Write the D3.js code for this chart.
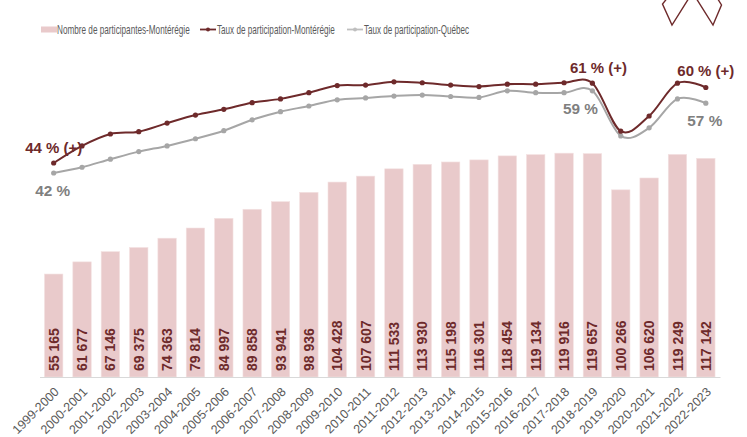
<!DOCTYPE html>
<html><head><meta charset="utf-8">
<script src="https://cdn.jsdelivr.net/npm/d3@7"></script>
<style>
html,body{margin:0;padding:0;background:#fff;}
svg{display:block;font-family:"Liberation Sans",Arial,sans-serif;}
</style></head>
<body>
<svg id="chart" width="747" height="437"></svg>
<script>
const categories = ["1999-2000","2000-2001","2001-2002","2002-2003","2003-2004","2004-2005","2005-2006","2006-2007","2007-2008","2008-2009","2009-2010","2010-2011","2011-2012","2012-2013","2013-2014","2014-2015","2015-2016","2016-2017","2017-2018","2018-2019","2019-2020","2020-2021","2021-2022","2022-2023"];
const participants = [55165,61677,67146,69375,74363,79814,84997,89858,93941,98936,104428,107607,111533,113930,115198,116301,118454,119134,119916,119657,100266,106620,119249,117142];
const tauxMonteregie = [44.0,47.6,50.1,50.6,52.4,54.1,55.3,56.7,57.5,58.8,60.3,60.4,61.1,60.9,60.4,60.1,60.6,60.6,60.9,60.8,50.7,53.9,60.8,59.9];
const tauxQuebec = [41.9,43.1,44.8,46.4,47.6,49.1,50.8,53.1,54.8,56.0,57.3,57.7,58.1,58.3,58.0,57.8,59.2,58.8,58.8,59.2,49.7,51.4,57.5,56.6];
const legendLabels = ["Nombre de participantes-Montérégie","Taux de participation-Montérégie","Taux de participation-Québec"];
const monteregieLabels = [[0,"44 % (+)"],[19,"61 % (+)"],[23,"60 % (+)"]];
const quebecLabels = [[0,"42 %"],[19,"59 %"],[23,"57 %"]];

const RED = "#6e2a2b", GRAY = "#a6a6a6", GRAYTXT = "#7f7f7f", BAR = "#e9cacb";
const svg = d3.select("#chart");

const x = d3.scaleBand().domain(categories).range([39.5,720]).paddingInner(0.35).paddingOuter(0.175);
const yBar = d3.scaleLinear().domain([0,120000]).range([377,153]);
const yPct = d3.scaleLinear().domain([40,65]).range([182,63.25]);
const cx = c => x(c) + x.bandwidth()/2;
const fmt = v => d3.format(",")(v).replace(/,/g," ");

// decorative logo top-right
const logo = svg.append("g").attr("fill","none").attr("stroke",RED).attr("stroke-width",1.4).attr("stroke-linejoin","miter");
logo.append("path").attr("d","M669,-4 L662.5,4 L672,25 L689,-2");
logo.append("path").attr("d","M696,-2 L713,25 L721.5,5 L716,-4");

// bars
svg.append("g").selectAll("rect").data(participants).join("rect")
  .attr("x",(d,i)=>x(categories[i])).attr("width",x.bandwidth())
  .attr("y",d=>yBar(d)).attr("height",d=>yBar(0)-yBar(d))
  .attr("fill",BAR).attr("stroke","#f3e2e2").attr("stroke-width",0.6);

// bar labels
svg.append("g").selectAll("text").data(participants).join("text")
  .attr("transform",(d,i)=>`translate(${cx(categories[i])},371) rotate(-90)`)
  .attr("dy","0.36em").attr("text-anchor","start")
  .attr("font-size",14).attr("font-weight","bold").attr("fill",RED)
  .text(d=>fmt(d));

// axis
const xAxis = d3.axisBottom(x).tickSize(0).tickPadding(0);
const ax = svg.append("g").attr("transform","translate(0,377)").call(xAxis);
ax.select(".domain").attr("stroke","#d9d9d9").attr("stroke-width",1.2);
ax.selectAll(".tick text")
  .attr("font-family","Liberation Sans, Arial, sans-serif")
  .attr("font-size",12.5).attr("fill","#595959")
  .attr("text-anchor","end")
  .attr("transform","translate(3,12.5) rotate(-45)")
  .attr("dy","0.35em").attr("y",0).attr("x",0);

// lines
const line = (yv)=> d3.line().x((d,i)=>cx(categories[i])).y(d=>yv(d)).curve(d3.curveCardinal.tension(0));
function drawSeries(vals,color){
  svg.append("path").datum(vals).attr("d",line(yPct)).attr("fill","none").attr("stroke",color).attr("stroke-width",2);
  svg.append("g").selectAll("circle").data(vals).join("circle")
    .attr("cx",(d,i)=>cx(categories[i])).attr("cy",d=>yPct(d)).attr("r",2.6).attr("fill",color);
}
drawSeries(tauxQuebec,GRAY);
drawSeries(tauxMonteregie,RED);

// point labels
const mOff = {0:[0,-10],19:[6,-10],23:[0,-11]};
svg.append("g").selectAll("text").data(monteregieLabels).join("text")
  .attr("x",d=>cx(categories[d[0]])+mOff[d[0]][0]).attr("y",d=>yPct(tauxMonteregie[d[0]])+mOff[d[0]][1])
  .attr("text-anchor","middle").attr("font-size",15.5).attr("font-weight","bold").attr("fill",RED)
  .attr("textLength",57).attr("lengthAdjust","spacingAndGlyphs")
  .text(d=>d[1]);
const qOff = {0:[-1,23],19:[-12,23],23:[-1,23]};
svg.append("g").selectAll("text").data(quebecLabels).join("text")
  .attr("x",d=>cx(categories[d[0]])+qOff[d[0]][0]).attr("y",d=>yPct(tauxQuebec[d[0]])+qOff[d[0]][1])
  .attr("text-anchor","middle").attr("font-size",15.5).attr("font-weight","bold").attr("fill",GRAYTXT)
  .attr("textLength",35).attr("lengthAdjust","spacingAndGlyphs")
  .text(d=>d[1]);

// legend (text squeezed horizontally to the reference's condensed widths)
const lg = svg.append("g").attr("font-size",12.5).attr("fill","#595959");
function lgText(x0,label,w){
  const g = lg.append("g");
  const t = g.append("text").attr("x",0).attr("y",0).text(label);
  const nat = t.node().getComputedTextLength();
  g.attr("transform",`translate(${x0},33.5) scale(${w/nat},1)`);
}
lg.append("rect").attr("x",41).attr("y",26.5).attr("width",16).attr("height",6).attr("fill",BAR);
lgText(57,legendLabels[0],133);
const lgLine = (x0,color,label,w)=>{
  lg.append("line").attr("x1",x0).attr("x2",x0+16).attr("y1",29.5).attr("y2",29.5).attr("stroke",color).attr("stroke-width",1.8);
  lg.append("circle").attr("cx",x0+8).attr("cy",29.5).attr("r",2).attr("fill",color);
  lgText(x0+17,label,w);
};
lgLine(200,RED,legendLabels[1],118);
lgLine(347,"#bfbfbf",legendLabels[2],105);
</script>
</body></html>
